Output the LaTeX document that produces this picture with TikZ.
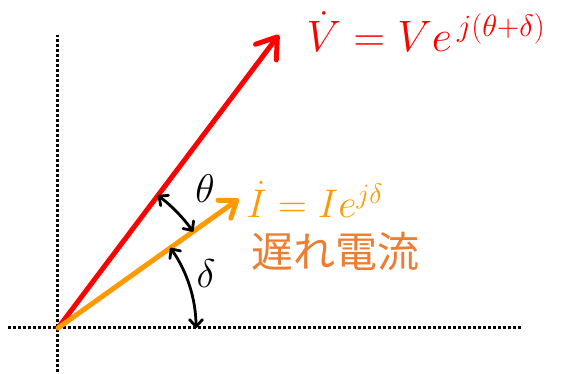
\RequirePackage{fix-cm}
\documentclass[tikz,border=0pt]{standalone}
\usepackage{amsmath}
\usepackage{fontspec}
\newfontfamily\jpfont{Noto Sans CJK JP}
\usetikzlibrary{arrows.meta}
\definecolor{phasorred}{RGB}{255,0,0}
\definecolor{phasororange}{RGB}{255,153,0}
\definecolor{lagorange}{RGB}{237,125,49}
\tikzset{
  axisdot/.style={line width=3pt,line cap=butt,dash pattern=on 3pt off 2pt},
  phasor/.style={line width=5pt,-{Straight Barb[length=19pt,width=26pt,round]}},
  anglemark/.style={line width=2.8pt,{Straight Barb[length=7pt,width=13pt,round]}-{Straight Barb[length=7pt,width=13pt,round]}},
  bigmath/.style={font=\fontsize{44}{52}\selectfont},
  midmath/.style={font=\fontsize{40}{48}\selectfont}
}
\begin{document}
\begin{tikzpicture}[x=1pt,y=1pt,line cap=round,line join=round]
\useasboundingbox (-58,-46) rectangle (504,328);
% Fazory napiecia i pradu opoznionego o kat delta
\coordinate (O) at (0,0);
\coordinate (V) at (53:367);
\coordinate (I) at (35.5:222);
\coordinate (xl) at (-50,0);
\coordinate (xr) at (464,0);
\coordinate (yt) at (0,293);
\coordinate (yb) at (0,-44);
\draw[axisdot] (xl)--(xr);
\draw[axisdot] (yb)--(yt);
\draw[phasor,phasorred] (O)--(V);
\draw[phasor,phasororange,-{Straight Barb[length=15pt,width=22pt,round]}] (O)--(I);
\draw[anglemark] (53:166) arc[start angle=53,end angle=35.5,radius=166];
\draw[anglemark] (35.5:138) arc[start angle=35.5,end angle=0,radius=138];
\node[midmath] (theta) at (147,139) {$\theta$};
\node[midmath] (delta) at (148,54) {$\delta$};
\node[bigmath,anchor=base west,text=phasorred] (vlabel) at (245,276)
 {$\dot{V}=Ve^{\,j(\theta+\delta)}$};
\node[midmath,anchor=base west,text=phasororange] (ilabel) at (185,110)
 {$\dot{I}=Ie^{j\delta}$};
\node[font=\fontsize{42}{50}\selectfont\jpfont,anchor=base west,text=lagorange] (lag) at (190,60)
 {遅れ電流};
\end{tikzpicture}
\end{document}
